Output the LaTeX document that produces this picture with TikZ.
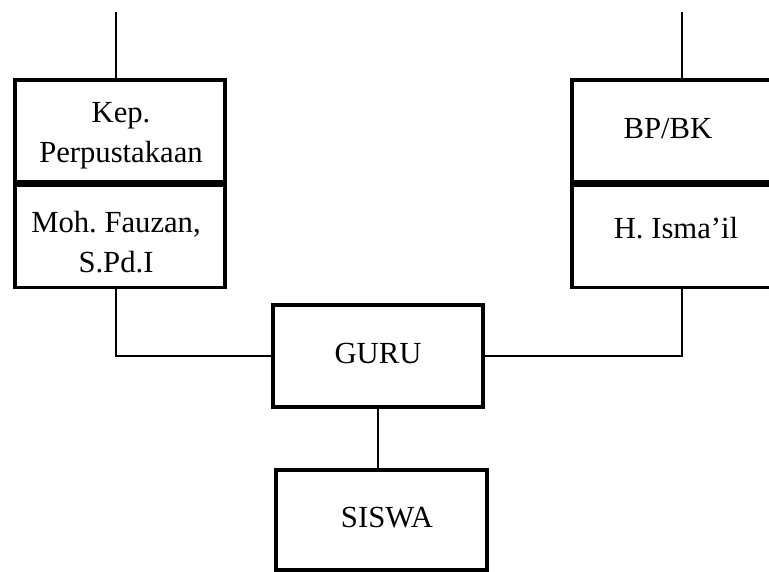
\documentclass[tikz,border=0pt]{standalone}
\usepackage{fontspec}
\setmainfont{Liberation Serif}
\usepackage{tikz}
\usetikzlibrary{positioning}

\begin{document}
\frenchspacing
\begin{tikzpicture}[x=0.75pt, y=-0.75pt, node distance=0pt,
  every node/.style={font=\fontsize{23}{30}\selectfont, align=center, inner sep=0pt},
  cell/.style={draw, rectangle, line width=2.6pt, minimum height=76.5pt},
  conn/.style={line width=1.1pt}]
  \useasboundingbox (0,0) rectangle (769,572);
  \clip (0,0) rectangle (769,572);
  \coordinate (topL) at (116,12);
  \coordinate (topR) at (682,12);
  % boxes
  \node[cell, minimum width=157.5pt] (kep) at (120,131) {};
  \node[cell, minimum width=157.5pt, below=of kep] (fauzan) {};
  \node[cell, minimum width=150pt] (bpbk) at (672,131) {};
  \node[cell, minimum width=150pt, below=of bpbk] (ismail) {};
  \node[cell, minimum width=157.5pt] (guru) at (378,356) {};
  \node[cell, minimum width=158.25pt, minimum height=75pt] (siswa) at (381.5,520) {};
  % texts
  \node (kepT) at (121,136) {Kep.\\Perpustakaan};
  \node (fauzanT) at (116,242) {Moh. Fauzan,\\S.Pd.I};
  \node (bpbkT) at (668,129) {BP/BK};
  \node (ismailT) at (676,228) {H. Isma’il};
  \node (guruT) at (378,353) {GURU};
  \node (siswaT) at (387,518) {SISWA};
  % lines
  \draw[conn] (topL) -- (topL |- kep.north);
  \draw[conn] (topR) -- (topR |- bpbk.north);
  \draw[conn] (fauzan.south -| topL) |- (guru.west);
  \draw[conn] (ismail.south -| topR) |- (guru.east);
  \draw[conn] (guru.south) -- (guru.south |- siswa.north);
\end{tikzpicture}
\end{document}
